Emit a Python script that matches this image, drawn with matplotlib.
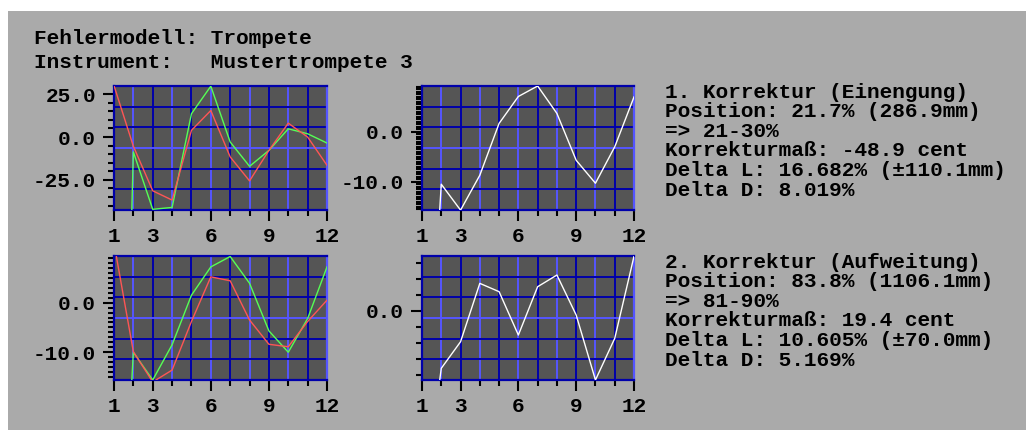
import matplotlib
matplotlib.use('Agg')
import matplotlib.pyplot as plt
from matplotlib.patches import Rectangle
from matplotlib.ticker import FixedLocator, MultipleLocator, FormatStrFormatter

plt.rcParams['font.family'] = ['Liberation Mono', 'DejaVu Sans Mono']
plt.rcParams['font.weight'] = 'bold'
plt.rcParams['axes.unicode_minus'] = False

# EGA style palette
PANEL = '#AAAAAA'
PLOT_BG = '#555555'
DARK_BLUE = '#0000AA'
LIGHT_BLUE = '#5555FF'
RED = '#FF5555'
GREEN = '#55FF55'
WHITE = '#FFFFFF'

# measurement positions (1..12)
pos = list(range(1, 12 + 1))
pos_late = [1.92] + list(range(2, 12 + 1))

# upper left: deviations in cent
dev_red = [30.0, -5.4, -31.4, -36.8, 3.9, 15.5, -11.6, -25.6, -7.8, 8.1, 0.0, -16.5]
dev_green = [-42.5, -8.7, -42.2, -41.1, 13.6, 29.7, -2.9, -17.1, -7.8, 4.8, 1.9, -3.5]
# upper right: difference curve
diff_1 = [-15.6, -10.5, -15.7, -8.7, 1.7, 7.1, 9.2, 3.7, -5.7, -10.3, -3.0, 7.0]
# lower left: after first correction
corr_red = [12.0, -9.9, -16.0, -13.6, -3.8, 5.2, 4.4, -3.5, -8.4, -8.9, -3.8, 0.5]
corr_green = [-15.6, -10.0, -15.6, -8.5, 1.5, 7.2, 9.3, 3.9, -5.7, -10.0, -3.2, 7.2]
# lower right: difference curve after first correction
diff_2 = [-4.33, -3.6, -1.94, 1.71, 1.19, -1.52, 1.5, 2.23, -0.27, -4.33, -1.73, 3.4]

x_labels = [1, 3, 6, 9, 12]

header = ['Fehlermodell: Trompete', 'Instrument:   Mustertrompete 3']
korr_1 = ['1. Korrektur (Einengung)',
          'Position: 21.7% (286.9mm)',
          '=> 21-30%',
          'Korrekturmaß: -48.9 cent',
          'Delta L: 16.682% (±110.1mm)',
          'Delta D: 8.019%']
korr_2 = ['2. Korrektur (Aufweitung)',
          'Position: 83.8% (1106.1mm)',
          '=> 81-90%',
          'Korrekturmaß: 19.4 cent',
          'Delta L: 10.605% (±70.0mm)',
          'Delta D: 5.169%']

W, H = 1026, 430
FS = 15.2

fig = plt.figure(figsize=(W / 100, H / 100), dpi=100, facecolor='white')

# background panel, pixel coordinates
base = fig.add_axes([0, 0, 1, 1])
base.set_xlim(0, W)
base.set_ylim(H, 0)
base.axis('off')
base.add_patch(Rectangle((8, 11), W - 8, H - 11, facecolor=PANEL, edgecolor='none'))

base.text(34, 38, header[0], fontsize=FS, ha='left', va='center')
base.text(34, 63, header[1], fontsize=FS, ha='left', va='center')
for i, line in enumerate(korr_1):
    base.text(665, 92 + i * 19.6, line, fontsize=FS, ha='left', va='center')
for i, line in enumerate(korr_2):
    base.text(665, 262 + i * 19.6, line, fontsize=FS, ha='left', va='center')


def panel(rect_px, ylim, majors, minor_step):
    x0, y0, x1, y1 = rect_px
    ax = fig.add_axes([x0 / W, 1 - y1 / H, (x1 - x0) / W, (y1 - y0) / H])
    ax.set_facecolor(PLOT_BG)
    ax.set_xlim(1, 12)
    ax.set_ylim(*ylim)

    # grid: odd positions dark, even positions light
    for k in range(2, 12):
        ax.axvline(k, color=LIGHT_BLUE if k % 2 == 0 else DARK_BLUE, lw=1.4, zorder=1)
    for j in range(1, 6):
        f = j / 6
        ax.plot([0, 1], [f, f], transform=ax.transAxes,
                color=LIGHT_BLUE if j == 3 else DARK_BLUE, lw=1.4, zorder=1)

    for side in ['top', 'bottom', 'left']:
        ax.spines[side].set_color(DARK_BLUE)
        ax.spines[side].set_linewidth(1.6)
    ax.spines['right'].set_color(LIGHT_BLUE)
    ax.spines['right'].set_linewidth(1.6)

    ax.xaxis.set_major_locator(FixedLocator(x_labels))
    ax.xaxis.set_minor_locator(FixedLocator(pos))
    ax.yaxis.set_major_locator(FixedLocator(majors))
    ax.yaxis.set_minor_locator(MultipleLocator(minor_step))
    ax.yaxis.set_major_formatter(FormatStrFormatter('%.1f'))
    ax.tick_params(axis='both', which='both', color='black', width=1.5,
                   direction='out', labelsize=FS)
    ax.tick_params(axis='x', which='major', length=8, pad=4)
    ax.tick_params(axis='x', which='minor', length=4)
    ax.tick_params(axis='y', which='major', length=8, pad=5)
    ax.tick_params(axis='y', which='minor', length=4.5)
    return ax


ax_tl = panel((114, 86, 327, 210), (-42.6, 29.8), [-25, 0, 25], 5)
ax_tr = panel((422, 86, 634, 210), (-15.67, 9.2), [-10, 0], 0.5)
ax_bl = panel((114, 256, 327, 380), (-15.6, 9.4), [-10, 0], 1)
ax_br = panel((422, 256, 634, 380), (-4.33, 3.42), [0], 1)

ax_tl.plot(pos_late, dev_green, color=GREEN, lw=1.0, zorder=3)
ax_tl.plot(pos, dev_red, color=RED, lw=1.0, zorder=3)
ax_tr.plot(pos_late, diff_1, color=WHITE, lw=1.0, zorder=3)
ax_bl.plot(pos_late, corr_green, color=GREEN, lw=1.0, zorder=3)
ax_bl.plot(pos, corr_red, color=RED, lw=1.0, zorder=3)
ax_br.plot(pos_late, diff_2, color=WHITE, lw=1.0, zorder=3)

fig.savefig('out.png', dpi=100, facecolor='white')
